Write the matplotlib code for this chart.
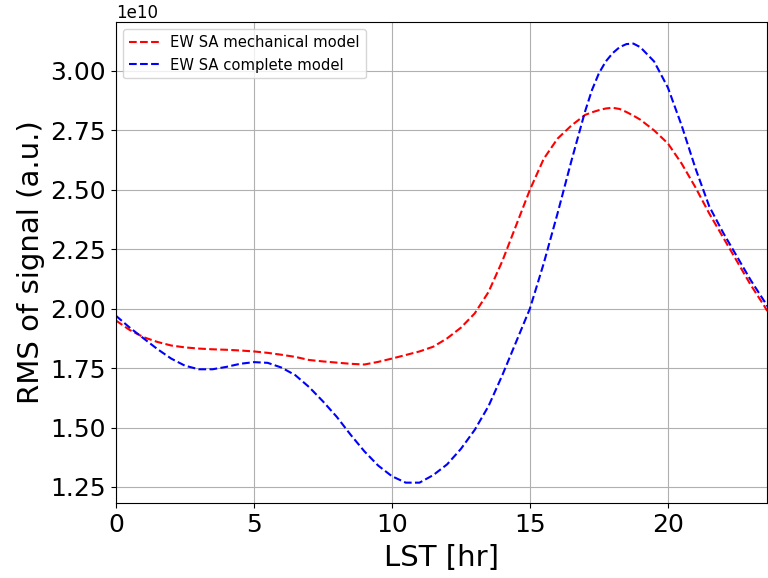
import numpy as np
import matplotlib
matplotlib.use("Agg")
import matplotlib.pyplot as plt

# LST in hours
lst = [0, 0.5, 1, 1.5, 2, 2.5, 3, 3.5, 4, 4.5, 5, 5.5, 6, 6.5, 7, 7.5, 8, 8.5,
       9, 9.5, 10, 10.5, 11, 11.5, 12, 12.5, 13, 13.5, 14, 14.5, 15, 15.5, 16,
       16.5, 17, 17.25, 17.5, 17.75, 18, 18.25, 18.5, 18.75, 19, 19.5, 20,
       20.5, 21, 21.5, 22, 22.5, 23, 23.5, 23.6]

# RMS of signal, in units of 1e10
rms_mechanical = [1.95, 1.91, 1.88, 1.86, 1.845, 1.837, 1.832, 1.829, 1.827,
                  1.824, 1.82, 1.814, 1.806, 1.797, 1.784, 1.778, 1.773, 1.768,
                  1.765, 1.776, 1.79, 1.805, 1.82, 1.84, 1.875, 1.92, 1.98,
                  2.07, 2.20, 2.35, 2.50, 2.63, 2.715, 2.77, 2.815, 2.826,
                  2.835, 2.842, 2.845, 2.84, 2.827, 2.812, 2.795, 2.75, 2.695,
                  2.61, 2.51, 2.40, 2.30, 2.20, 2.10, 2.01, 1.99]

rms_complete = [1.97, 1.92, 1.875, 1.83, 1.79, 1.76, 1.745, 1.745, 1.755,
                1.768, 1.775, 1.772, 1.752, 1.72, 1.67, 1.61, 1.545, 1.47,
                1.40, 1.34, 1.295, 1.268, 1.268, 1.30, 1.345, 1.41, 1.49, 1.59,
                1.72, 1.86, 2.00, 2.19, 2.40, 2.62, 2.83, 2.92, 2.99, 3.04,
                3.075, 3.10, 3.113, 3.115, 3.10, 3.04, 2.93, 2.77, 2.59, 2.43,
                2.32, 2.22, 2.12, 2.03, 2.01]

x = np.array(lst)
y_mech = np.array(rms_mechanical) * 1e10
y_comp = np.array(rms_complete) * 1e10

fig = plt.figure(figsize=(7.68, 5.78), dpi=100)
ax = fig.add_axes([0.151, 0.130, 0.848, 0.832])

ax.plot(x, y_mech, "r--", lw=1.5, label="EW SA mechanical model")
ax.plot(x, y_comp, "b--", lw=1.5, label="EW SA complete model")

ax.set_xlim(0, 23.6)
ax.set_ylim(1.183e10, 3.206e10)
ax.set_xticks([0, 5, 10, 15, 20])
ax.set_yticks(np.arange(1.25, 3.01, 0.25) * 1e10)

ax.set_xlabel("LST [hr]", fontsize=21, labelpad=5)
ax.set_ylabel("RMS of signal (a.u.)", fontsize=21)
ax.tick_params(labelsize=18)
ax.yaxis.get_offset_text().set_fontsize(12)
ax.grid(True)
ax.legend(loc="upper left", fontsize=10.6)

fig.savefig("out.png", dpi=100)
